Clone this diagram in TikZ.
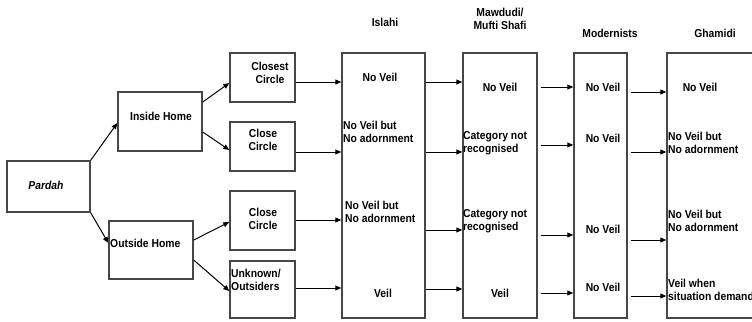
\documentclass[tikz,border=0pt]{standalone}
\usepackage{fontspec}
\setmainfont{Liberation Sans}[FakeStretch=0.9]
\usetikzlibrary{arrows.meta}
\begin{document}
\begin{tikzpicture}[x=1bp,y=-1bp,
  box/.style={draw=black!72,line width=1.4bp,rectangle,inner sep=0pt,fill=white},
  txt/.style={inner sep=0pt,font=\fontsize{11.5bp}{13.5bp}\selectfont\bfseries},
  lt/.style={txt,align=left,anchor=west},
  ct/.style={txt,align=center},
  arr/.style={draw=black,line width=1bp,-{Triangle[length=6bp,width=5bp]}}]
\useasboundingbox (0,0) rectangle (752,321);
\clip (0,0) rectangle (752,321);
\fill[white] (0,0) rectangle (752,321);
% boxes
\node[box,minimum width=83bp,minimum height=51bp] (pardah) at (48.5,186.5) {};
\node[box,minimum width=84bp,minimum height=59bp] (inside) at (160,121.5) {};
\node[box,minimum width=84bp,minimum height=58bp] (outside) at (151,250) {};
\node[box,minimum width=65bp,minimum height=49bp] (closest) at (262.5,77.5) {};
\node[box,minimum width=65bp,minimum height=49bp] (closeA) at (262.5,146.5) {};
\node[box,minimum width=65bp,minimum height=59bp] (closeB) at (262.5,220.5) {};
\node[box,minimum width=65bp,minimum height=57bp] (unknown) at (262.5,289.5) {};
\node[box,minimum width=83bp,minimum height=265bp] (islahi) at (383.5,185.5) {};
\node[box,minimum width=74bp,minimum height=265bp] (mawdudi) at (500,185.5) {};
\node[box,minimum width=53bp,minimum height=265bp] (modern) at (600.5,185.5) {};
\node[box,minimum width=113bp,minimum height=265bp] (ghamidi) at (723.5,185.5) {};
% headers
\node[ct] (hIslahi) at (385,22) {Islahi};
\node[ct] (hMawdudi) at (500,19) {Mawdudi/\\Mufti Shafi};
\node[ct] (hModern) at (610,33) {Modernists};
\node[ct] (hGhamidi) at (715,33) {Ghamidi};
% left texts
\node[ct,font=\fontsize{11.5bp}{13.5bp}\selectfont\bfseries\itshape] (tPardah) at (46,185) {Pardah};
\node[ct] (tInside) at (161,116) {Inside Home};
\node[lt] (tOutside) at (110,243) {Outside Home};
\node[ct] (tClosest) at (270,73) {Closest\\Circle};
\node[ct] (tCloseA) at (263,140) {Close\\Circle};
\node[ct] (tCloseB) at (263,219) {Close\\Circle};
\node[lt] (tUnknown) at (231,280) {Unknown/\\Outsiders};
% Islahi
\node[ct] (i1) at (380,77) {No Veil};
\node[lt] (i2) at (343,132) {No Veil but\\No adornment};
\node[lt] (i3) at (345,212) {No Veil but\\No adornment};
\node[ct] (i4) at (383,293) {Veil};
% Mawdudi
\node[ct] (m1) at (500,87) {No Veil};
\node[lt] (m2) at (463,143) {Category not\\recognised};
\node[lt] (m3) at (463,221) {Category not\\recognised};
\node[ct] (m4) at (500,293) {Veil};
% Modernists
\node[ct] (d1) at (603,87) {No Veil};
\node[ct] (d2) at (603,138) {No Veil};
\node[ct] (d3) at (603,229) {No Veil};
\node[ct] (d4) at (603,287) {No Veil};
% Ghamidi
\node[ct] (g1) at (700,87) {No Veil};
\node[lt] (g2) at (668,143) {No Veil but\\No adornment};
\node[lt] (g3) at (668,221) {No Veil but\\No adornment};
\node[lt] (g4) at (668,290) {Veil when\\situation demands};
% arrows left tree
\draw[arr] (pardah.north east) -- (inside.west |- 0,123);
\draw[arr] (pardah.south east) -- (outside.west |- 0,243);
\draw[arr] (inside.east |- 0,102) -- (closest.west |- 0,83);
\draw[arr] (inside.east |- 0,132) -- (closeA.west |- 0,150);
\draw[arr] (outside.east |- 0,240) -- (closeB.west |- 0,222);
\draw[arr] (outside.east |- 0,260) -- (unknown.west |- 0,291);
% to Islahi
\draw[arr] (closest.east |- 0,82) -- (islahi.west |- 0,82);
\draw[arr] (closeA.east |- 0,152) -- (islahi.west |- 0,152);
\draw[arr] (closeB.east |- 0,220) -- (islahi.west |- 0,220);
\draw[arr] (unknown.east |- 0,288) -- (islahi.west |- 0,288);
% to Mawdudi
\draw[arr] (islahi.east |- 0,82) -- (mawdudi.west |- 0,82);
\draw[arr] (islahi.east |- 0,152) -- (mawdudi.west |- 0,152);
\draw[arr] (islahi.east |- 0,230) -- (mawdudi.west |- 0,230);
\draw[arr] (islahi.east |- 0,289) -- (mawdudi.west |- 0,289);
% to Modernists
\draw[arr,shorten <=3bp] (mawdudi.east |- 0,87) -- (modern.west |- 0,87);
\draw[arr,shorten <=3bp] (mawdudi.east |- 0,145) -- (modern.west |- 0,145);
\draw[arr,shorten <=3bp] (mawdudi.east |- 0,235) -- (modern.west |- 0,235);
\draw[arr,shorten <=3bp] (mawdudi.east |- 0,293) -- (modern.west |- 0,293);
% to Ghamidi
\draw[arr,shorten <=3bp] (modern.east |- 0,92) -- (ghamidi.west |- 0,92);
\draw[arr,shorten <=3bp] (modern.east |- 0,152) -- (ghamidi.west |- 0,152);
\draw[arr,shorten <=3bp] (modern.east |- 0,240) -- (ghamidi.west |- 0,240);
\draw[arr,shorten <=3bp] (modern.east |- 0,296) -- (ghamidi.west |- 0,296);
\end{tikzpicture}
\end{document}
